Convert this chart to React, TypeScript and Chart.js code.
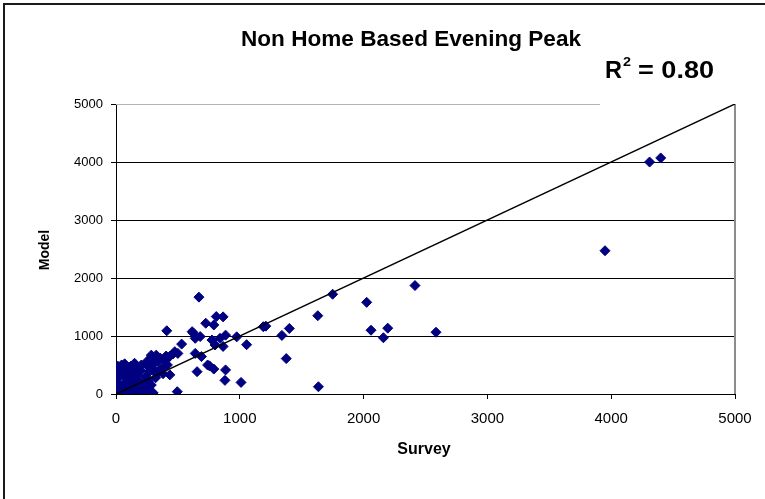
import { useEffect, useRef } from "react";
import { Chart, registerables } from "chart.js";

Chart.register(...registerables);

const chartTitle = "Non Home Based Evening Peak";
const rSquaredText = "0.80";
const xAxisTitle = "Survey";
const yAxisTitle = "Model";

const axisMin = 0;
const axisMax = 5000;
const axisStep = 1000;

// Observed counts (survey) against modelled counts
const surveyValues = [
  4400, 4310, 3950, 2415, 1750, 2025, 1630, 2060, 2195, 2160, 2585, 1635, 1190, 1210,
  1340, 1400, 1375, 1055, 1010, 975, 885, 885, 880, 865, 810, 790, 725, 670, 640, 615,
  410, 840, 775, 800, 865, 790, 755, 690, 680, 655, 640, 530, 475, 495, 435, 740, 625,
  500, 405, 325, 285, 360, 285, 310, 415, 350, 270, 435, 285, 245, 100, 180, 45, 70,
  150, 205, 120, 20, 30, 10, 60, 90, 130, 170, 200, 240, 260, 220, 150, 110, 80, 40,
  20, 55, 100, 140, 180, 300, 330, 380, 400, 460, 320, 230, 190, 60, 15, 10, 5, 35, 95,
  125, 160, 260, 280, 300, 120, 50, 75, 200, 340, 380, 250, 0, 150,
];
const modelValues = [
  4070, 4000, 2470, 1870, 1720, 1580, 1350, 1100, 1135, 970, 1065, 125, 1160, 1170,
  1010, 1130, 610, 850, 200, 985, 1015, 415, 235, 1330, 1335, 1190, 1220, 1670, 960, 1075,
  1090, 960, 930, 845, 820, 430, 485, 645, 990, 385, 700, 860, 730, 40, 650, 500, 1050,
  700, 655, 670, 670, 615, 630, 530, 500, 410, 385, 330, 155, 70, 0, 15, 500, 520,
  530, 500, 480, 420, 300, 200, 350, 250, 380, 330, 410, 300, 220, 180, 150, 100, 60, 30,
  100, 160, 200, 280, 240, 430, 350, 460, 580, 690, 280, 120, 60, 440, 480, 50, 320, 400, 440,
  330, 460, 480, 40, 20, 20, 80, 170, 30, 560, 350, 560, 250, 90,
];

// Line of equality (model = survey)
const equalityLine = [0, 5000];

const FONT = "'Liberation Sans', Arial, sans-serif";

// Draws text stretched horizontally to a given width
function fillTextWidth(ctx: CanvasRenderingContext2D, text: string, x: number, y: number, targetWidth: number) {
  const w = ctx.measureText(text).width;
  const sx = targetWidth / w;
  ctx.save();
  ctx.translate(x, y);
  ctx.scale(sx, 1);
  ctx.fillText(text, 0, 0);
  ctx.restore();
  return w * sx;
}

const decorPlugin = {
  id: "decor",
  beforeDraw(chart: any) {
    const { ctx, width, height } = chart;
    ctx.save();
    ctx.fillStyle = "#ffffff";
    ctx.fillRect(0, 0, width, height);
    ctx.restore();
  },
  beforeDatasetsDraw(chart: any) {
    const { ctx, chartArea } = chart;
    const { left, right, top, bottom } = chartArea;
    ctx.save();
    ctx.strokeStyle = "#8c8c8c";
    ctx.lineWidth = 2;
    ctx.beginPath();
    ctx.moveTo(right, top);
    ctx.lineTo(right, bottom);
    ctx.stroke();
    ctx.strokeStyle = "#b4b4b4";
    ctx.lineWidth = 1;
    ctx.beginPath();
    ctx.moveTo(left, top + 0.5);
    ctx.lineTo(600, top + 0.5);
    ctx.stroke();
    ctx.restore();
  },
  afterDraw(chart: any) {
    const { ctx, width, height } = chart;
    ctx.save();
    // outer frame
    ctx.strokeStyle = "#1a1a1a";
    ctx.lineWidth = 2;
    ctx.beginPath();
    ctx.moveTo(4, height);
    ctx.lineTo(4, 4);
    ctx.lineTo(width, 4);
    ctx.stroke();

    ctx.fillStyle = "#000";
    ctx.textBaseline = "alphabetic";
    ctx.textAlign = "left";
    // title
    ctx.font = `bold 22.5px ${FONT}`;
    fillTextWidth(ctx, chartTitle, 241, 46, 340);

    // R squared label
    ctx.font = `bold 24px ${FONT}`;
    let x = 605;
    x += fillTextWidth(ctx, "R", x, 78, 17);
    ctx.font = `bold 13px ${FONT}`;
    fillTextWidth(ctx, "2", x + 1, 66, 8);
    x += 10;
    ctx.font = `bold 24px ${FONT}`;
    fillTextWidth(ctx, "= " + rSquaredText, x + 6, 78, 76);

    // axis titles
    ctx.font = `bold 16px ${FONT}`;
    ctx.textAlign = "center";
    ctx.textBaseline = "middle";
    ctx.fillText(xAxisTitle, 424, 450);
    ctx.font = `bold 14px ${FONT}`;
    ctx.translate(45, 250);
    ctx.rotate(-Math.PI / 2);
    ctx.fillText(yAxisTitle, 0, 0);
    ctx.restore();
  },
};

export default function App() {
  const canvasRef = useRef<HTMLCanvasElement | null>(null);

  useEffect(() => {
    const canvas = canvasRef.current;
    if (!canvas) return;
    const points = surveyValues.map((s, i) => ({ x: s, y: modelValues[i] }));
    const line = equalityLine.map((v) => ({ x: v, y: v }));

    const chart = new Chart(canvas, {
      type: "scatter",
      data: {
        datasets: [
          {
            type: "line",
            label: "Equality",
            data: line,
            borderColor: "#000000",
            borderWidth: 1.5,
            pointRadius: 0,
            showLine: true,
            order: 0,
          } as any,
          {
            label: "Links",
            data: points,
            pointStyle: "rectRot",
            pointRadius: 5,
            backgroundColor: "#000080",
            borderColor: "#000080",
            borderWidth: 1,
            order: 1,
          },
        ],
      },
      options: {
        responsive: false,
        animation: false,
        devicePixelRatio: 1,
        layout: { padding: { top: 104, right: 30, left: 0, bottom: 0 } },
        plugins: {
          legend: { display: false },
          tooltip: { enabled: false },
          title: { display: false },
        },
        scales: {
          x: {
            type: "linear",
            min: axisMin,
            max: axisMax,
            afterFit: (s: any) => {
              s.height = 105;
            },
            ticks: {
              stepSize: axisStep,
              padding: 11,
              color: "#000",
              font: { family: FONT, size: 15 },
              maxRotation: 0,
              callback: (v: any) => String(v),
            },
            grid: {
              drawOnChartArea: false,
              tickLength: 5,
              tickColor: "#000",
            },
            border: { color: "#000", width: 1 },
          },
          y: {
            type: "linear",
            min: axisMin,
            max: axisMax,
            afterFit: (s: any) => {
              s.width = 116;
            },
            ticks: {
              stepSize: axisStep,
              padding: 8,
              color: "#000",
              font: { family: FONT, size: 13 },
              callback: (v: any) => String(v),
            },
            grid: {
              color: (c: any) => (c.tick && c.tick.value === axisMax ? "rgba(0,0,0,0)" : "#000"),
              tickColor: "#000",
              tickLength: 5,
              lineWidth: 1,
            },
            border: { color: "#000", width: 1 },
          },
        },
      },
      plugins: [decorPlugin],
    });
    return () => chart.destroy();
  }, []);

  return (
    <div style={{ position: "fixed", left: 0, top: 0, width: 765, height: 499, background: "#fff" }}>
      <canvas ref={canvasRef} width={765} height={499} style={{ display: "block" }} />
    </div>
  );
}
